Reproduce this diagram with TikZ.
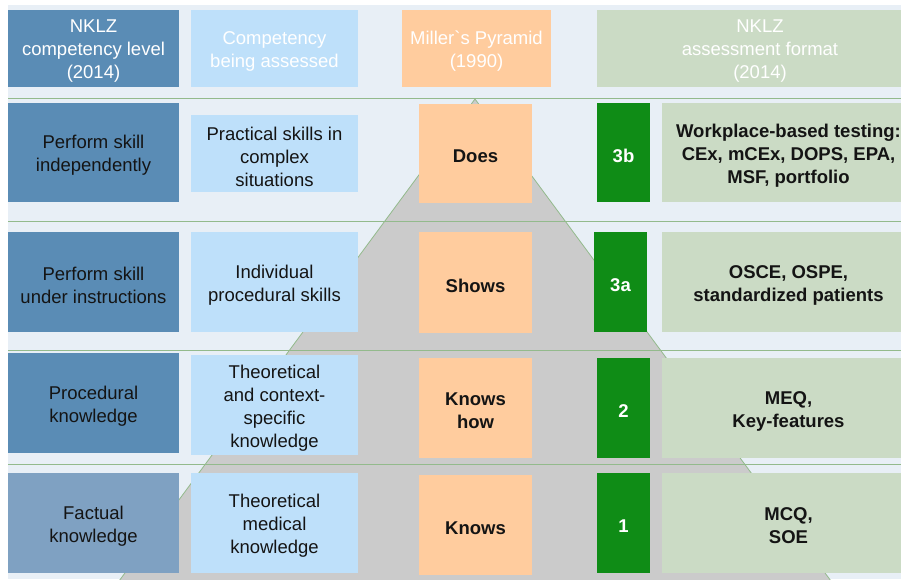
\documentclass[tikz,border=0pt]{standalone}
\usepackage{fontspec}
\setmainfont{Liberation Sans}
\newfontfamily\rawsans[Ligatures=TeXOff]{Liberation Sans}
\definecolor{bgc}{HTML}{E8EFF6}
\definecolor{dblue}{HTML}{5A8CB5}
\definecolor{mblue}{HTML}{7FA1C2}
\definecolor{lblue}{HTML}{BEE0FA}
\definecolor{peach}{HTML}{FFCC9E}
\definecolor{dgreen}{HTML}{0F8C16}
\definecolor{lgreen}{HTML}{CBDBC5}
\definecolor{pgray}{HTML}{CBCBCB}
\definecolor{lgline}{HTML}{93BA8C}
\definecolor{txt}{HTML}{141414}
\tikzset{
  boxc/.style={draw=none, inner sep=0pt},
  cell/.style={inner sep=0pt, align=center, text=txt,
    font=\fontsize{18.5}{23}\selectfont},
  hcell/.style={cell, text=white},
  bcell/.style={cell, font=\fontsize{18.5}{23}\selectfont\bfseries},
  ncell/.style={cell, text=white, font=\fontsize{18.5}{23}\selectfont\bfseries},
  sepline/.style={draw=lgline, line width=1pt},
  pyr/.style={fill=pgray, draw=lgline, line width=0.8pt}
}
% #1 text style, #2 fill, #3 name, #4 x1, #5 y1, #6 x2, #7 y2, #8 text
\newcommand{\cellbox}[8]{%
  \node[boxc, fill=#2, minimum width={(#6)-(#4)}, minimum height={(#7)-(#5)}]
    (#3) at ({((#4)+(#6))/2},{((#5)+(#7))/2}) {};
  \node[#1] (#3-t) at ([yshift=-3pt]#3.center) {#8};}
\begin{document}
\begin{tikzpicture}[x=1pt,y=-1pt]
\useasboundingbox (0,0) rectangle (901,579);
\clip (0,0) rectangle (901,579);
\fill[white] (0,0) rectangle (901,579);
\fill[bgc] (8,5) rectangle (901,579);
% pyramid
\path[pyr] (475,99) -- (105,600) -- (845,600) -- cycle;
% separators
\coordinate (s1a) at (8,98);  \coordinate (s1b) at (901,98);
\coordinate (s2a) at (8,221); \coordinate (s2b) at (901,221);
\coordinate (s3a) at (8,350); \coordinate (s3b) at (901,350);
\coordinate (s4a) at (8,464); \coordinate (s4b) at (901,464);
\draw[sepline] (s1a) -- (s1b);
\draw[sepline] (s2a) -- (s2b);
\draw[sepline] (s3a) -- (s3b);
\draw[sepline] (s4a) -- (s4b);
% header
\cellbox{hcell}{dblue}{h1}{8}{10}{179}{87}{NKLZ\\competency level\\(2014)}
\cellbox{hcell}{lblue}{h2}{191}{10}{358}{87}{Competency\\being assessed}
\cellbox{hcell}{peach}{h3}{402}{10}{551}{87}{{\rawsans Miller`s} Pyramid\\(1990)}
\cellbox{hcell}{lgreen}{h4}{597}{10}{923}{87}{NKLZ\\assessment format\\(2014)}
% row 1
\cellbox{cell}{dblue}{a1}{8}{103}{179}{202}{Perform skill\\independently}
\cellbox{cell}{lblue}{b1}{191}{115}{358}{192}{Practical skills in\\complex\\situations}
\cellbox{bcell}{peach}{c1}{419}{104}{532}{203}{Does}
\cellbox{ncell}{dgreen}{d1}{597}{103}{650}{202}{3b}
\cellbox{bcell}{lgreen}{e1}{662}{103}{915}{202}{Workplace-based testing:\\CEx, mCEx, DOPS, EPA,\\MSF, portfolio}
% row 2
\cellbox{cell}{dblue}{a2}{8}{232}{179}{332}{Perform skill\\under instructions}
\cellbox{cell}{lblue}{b2}{191}{232}{358}{332}{Individual\\procedural skills}
\cellbox{bcell}{peach}{c2}{419}{232}{532}{333}{Shows}
\cellbox{ncell}{dgreen}{d2}{594}{232}{647}{332}{3a}
\cellbox{bcell}{lgreen}{e2}{662}{232}{915}{332}{OSCE, OSPE,\\standardized patients}
% row 3
\cellbox{cell}{dblue}{a3}{8}{353}{179}{453}{Procedural\\knowledge}
\cellbox{cell}{lblue}{b3}{191}{355}{358}{455}{Theoretical\\and context-\\specific\\knowledge}
\cellbox{bcell}{peach}{c3}{419}{358}{532}{458}{Knows\\how}
\cellbox{ncell}{dgreen}{d3}{597}{358}{650}{458}{2}
\cellbox{bcell}{lgreen}{e3}{662}{358}{915}{458}{MEQ,\\Key-features}
% row 4
\cellbox{cell}{mblue}{a4}{8}{473}{179}{573}{Factual\\knowledge}
\cellbox{cell}{lblue}{b4}{191}{473}{358}{573}{Theoretical\\medical\\knowledge}
\cellbox{bcell}{peach}{c4}{419}{475}{532}{575}{Knows}
\cellbox{ncell}{dgreen}{d4}{597}{473}{650}{573}{1}
\cellbox{bcell}{lgreen}{e4}{662}{473}{915}{573}{MCQ,\\SOE}
\end{tikzpicture}
\end{document}
